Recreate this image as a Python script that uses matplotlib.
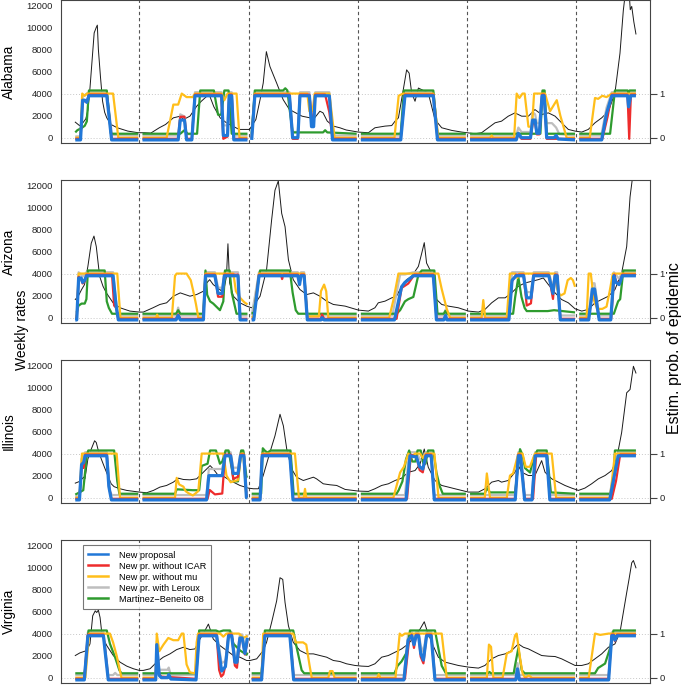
import numpy as np
import matplotlib
matplotlib.use("Agg")
import matplotlib.pyplot as plt
from matplotlib.lines import Line2D

plt.rcParams['font.family'] = ['Liberation Sans', 'DejaVu Sans']

# ---------------- data (week index, value) ----------------
STATES = ["Alabama", "Arizona", "Illinois", "Virginia"]
SEASON_BREAKS = [30.5, 82.5, 134.5, 186.5, 238.5]
RATE_TICKS = [0, 2000, 4000, 6000, 8000, 10000, 12000]
PROB_TICKS = [0, 1]
PROB_SCALE = 4000
SERIES_LABELS = ["New proposal", "New pr. without ICAR", "New pr. without mu",
                 "New pr. with Leroux", "Martinez\u2212Beneito 08"]

# ---- Alabama ----
AL_RATE = [(0,1410),(2,1100),(3,1200),(5,1700),(6,2500),(7,4500),(8,7000),(9,9500),(10,10000),(10.5,10200),(11,8000),(12,5500),(13,3300),(14,2300),(15,1800),(17,1200),(20,900),(25,600),(30,450),
           (33,450),(36,420),(40,900),(43,1200),(46.7,1800),(50,1950),(51.5,1650),(54.6,1950),(57.8,2850),(60,3300),(62.6,3750),(64,3800),(66,2800),(69,1800),(72,1350),(75,1050),(78,750),(82,750),
           (83,750),(86,1650),(88,3450),(89.5,4950),(91,7800),(92.7,6450),(95.9,4950),(99,3450),(102,2550),(105,2250),(108,1950),(111.8,1800),(114,1800),(116.5,2400),(118,2250),(120,1500),(122.9,1050),(126,900),(129,700),
           (134.8,510),(139.6,450),(142.7,900),(147.5,1050),(150.7,1100),(152.3,1500),(153.9,1800),(156.2,4350),(157.8,6150),(159,5850),(160.2,4050),(161.8,3300),(163.4,4500),(165,4350),(166.6,4200),(168.1,4050),(169.7,2850),(171.3,1650),(174.5,900),(179.3,660),(184,510),(190.4,360),(193.5,450),
           (196.7,900),(199.9,1350),(203,1500),(206.2,1950),(209.4,2250),(212.6,1950),(215.8,1950),(218.9,2550),(222.1,2100),(225.3,2250),(228.5,1950),(231.6,1350),(234.8,750),(238,600),(241.2,510),(244.3,750),(247.5,1350),(250.7,1800),(253.9,2400),(257,4050),(259.4,7650),(261,11550),(262.2,13500),(263.5,14000),(264.3,11600),(265,11900),(266,10500),(267,9400)]
AL_BLUE = [(0,0),(2.5,0),(3.5,0.9),(4.5,0.9),(5.5,0.85),(6.5,1),(15,1),(17.3,0),(30,0),
           (32,0),(49,0),(50,0.45),(52,0.45),(53,0),(55.5,0),(57,1),(69.7,1),(70.5,0.1),(72.5,0.1),(73.3,1),(74.5,1),(75.5,0),(82,0),
           (84,0),(85.5,1),(102,1),(103.5,0.05),(106,0.05),(107,1),(111.5,1),(112.5,0.3),(113.5,0.3),(114.3,1),(121,1),(122.5,0),(134,0),
           (136,0),(155,0),(157,1),(170.5,1),(172.5,0),(186,0),
           (188,0),(210,0),(211,0.15),(212.5,0.05),(216.8,0.05),(217.8,0.45),(219,0.45),(219.8,0.15),(221,0.15),(222.3,1),(223.3,1),(224.5,0.05),(228,0.05),(229,0.1),(230,0.02),(238,0),
           (240,0),(250.7,0),(253,0.6),(255.5,1),(263,1),(263.5,0.75),(264.5,1),(267,1)]
AL_RED = [(0,0),(2.5,0),(3.5,0.85),(5.5,0.85),(6.5,1),(15,1),(17.3,0),(30,0),
          (32,0),(49,0),(50,0.5),(52,0.5),(53,0),(55.5,0),(57,1),(69.5,1),(70.5,0),(72.5,0.05),(73.3,1),(74.5,1),(75.5,0),(82,0),
          (84,0),(85.5,1),(102,1),(103.5,0),(106,0),(107,1),(111.5,1),(112.5,0.5),(113.5,0.5),(114.3,1),(119,1),(121,0.6),(122.5,0),(134,0),
          (136,0),(155,0),(157,1),(170.5,1),(172.5,0),(186,0),
          (188,0),(210,0),(211,0.1),(212.5,0),(216.8,0),(217.8,0.35),(219,0.35),(219.8,0.1),(221,0.1),(222.3,1),(223.3,1),(224.5,0),(238,0),
          (240,0),(251,0),(253.5,0.5),(255.5,1),(263,1),(263.8,0),(264.6,1),(267,1)]
AL_GRAY = [(0,0),(2.5,0),(3.5,0.9),(6.5,1),(15,1),(17.5,0.03),(30,0.02),
           (32,0.02),(49,0.02),(50,0.5),(52,0.45),(53,0.05),(55.5,0.05),(57,1),(69.7,1),(70.5,0.25),(72.5,0.25),(73.3,1),(74.5,1),(75.5,0.02),(82,0.02),
           (84,0.02),(85.5,1),(102,1),(103.5,0.1),(106,0.1),(107,1),(111.5,1),(112.5,0.45),(113.5,0.45),(114.3,1),(121,1),(122.5,0.02),(134,0.02),
           (136,0.02),(155,0.02),(157,1),(170.5,1),(172.5,0.02),(186,0.02),
           (188,0.02),(210,0.02),(211,0.2),(212.5,0.1),(216.8,0.1),(217.8,0.55),(219,0.5),(219.8,0.3),(221,0.3),(222.3,1),(223.3,1),(224.5,0.3),(227,0.3),(229,0.2),(230.5,0.05),(238,0.02),
           (240,0.02),(250.5,0.02),(253,0.65),(255.5,1),(263,1),(263.5,0.85),(264.5,1),(267,1)]
AL_YELLOW = [(0,0),(2.5,0),(3.3,1),(4.5,0.95),(5.5,1),(18,1),(20.5,0),(30,0),
             (32,0),(43.5,0),(46.7,0.75),(49,0.75),(50.7,1),(53,0.92),(56,0.92),(57,1),(69.7,1),(71,0.85),(72.5,1),(76.8,1),(78.2,0),(82,0),
             (84,0),(85.5,1),(110.5,1),(111.5,0.6),(113,0.6),(114,1),(121,1),(123.5,0),(134,0),
             (136,0),(152,0),(154,0.95),(156,1),(170.5,1),(172.9,0),(186,0),
             (188,0),(197.5,0),(198.3,0.05),(199,0),(209,0),(210.2,1),(211.5,0.9),(213,1),(214,1),(215.8,0.25),(217.5,0.25),(218.5,1),(223.7,1),(226.1,0.6),(229.3,0.85),(231,0.5),(234,0),(238,0),
             (240,0),(245,0),(247.5,0.9),(249,0.88),(251,0.95),(253,0.92),(255.5,1),(267,1)]
AL_GREEN = [(0,0.05),(1,0.1),(3,0.15),(4.5,0.2),(5.5,0.3),(6.5,1),(15,1),(17,0.02),(30,0.02),
            (32,0.02),(50,0.02),(52,0.1),(53.5,0.02),(58,0.02),(59.5,1),(66,1),(68,0.45),(69.5,0.45),(71,1),(73,1),(74.5,0.02),(82,0.02),
            (84,0.02),(85.5,1),(99,1),(100,1.05),(101,1),(102,0.6),(103.5,0.05),(118,0.05),(119,0.1),(120,0.05),(134,0.02),
            (136,0.02),(155,0.02),(156.5,1),(170.5,1),(172.5,0.02),(186,0.02),
            (188,0.02),(221.5,0.02),(222.5,1),(223.5,1),(224.5,0.02),(238,0.02),
            (240,0.02),(254.7,0.02),(257,1),(263,1),(263.5,0.95),(264,1),(267,1)]

# ---- Arizona ----
AZ_RATE = [(0,1650),(1.4,1950),(3,2550),(4.4,3000),(6,4650),(7.6,6750),(8.9,7400),(10,6450),(11.6,3750),(13.2,2850),(14.8,2250),(18,1350),(21.3,900),(26,600),(30.5,510),(32.4,510),(37,900),(40.3,1200),(43.5,1350),(46.7,1950),(50,2250),(52.3,2100),(54.6,1950),(57.8,2100),(61,2400),(62.6,3150),(64,3450),(65.7,3000),(68.9,2550),(70.5,2250),(72,3750),(72.7,6700),(73.5,3150),(75.3,1950),(78.4,1350),(81.6,1050),(84,900),(84.8,1050),(88,1950),(91.1,4350),(93.5,8850),(95.1,11550),(96.7,12400),(98.3,9450),(99.9,8250),(101.5,5250),(103.8,3450),(107,2550),(110.2,2100),(113.4,2250),(116.5,1950),(119.7,1500),(122.9,1200),(128.5,1050),(134.8,690),(139.6,600),(142.7,900),(144.3,1350),(147.5,1500),(150.7,1800),(153,1950),(155.4,2850),(157.8,3450),(160.2,3750),(163.4,4650),(165,5850),(166.2,6800),(167.3,4950),(168.9,4350),(170.5,3450),(172.1,1650),(174.5,1200),(177.7,1050),(182.4,900),(187.2,600),(192,510),(195.1,750),(198.3,1350),(201.5,1800),(204.7,1800),(207.8,2250),(211,2850),(214.2,3150),(217.4,3300),(220.5,3450),(222.9,3600),(225.3,3000),(228.5,2250),(231.6,1650),(234.8,1350),(238,810),(241.2,600),(244.3,750),(247.5,1350),(250.7,1650),(253.9,1950),(257,2550),(260.2,4050),(262.6,6450),(264.2,10950),(265.3,12600),(266.5,14500),(267,15500)]
AZ_BLUE = [(0,0),(0.7,0),(1.6,0.95),(2.8,0.95),(3.5,0.85),(4.5,0.9),(5.3,1),(18,1),(19.5,0.3),(20.5,0),(30,0),
           (32,0),(48,0),(49,0.1),(50,0),(61,0),(62,1),(66.5,1),(68,0.6),(70,0.6),(71,1),(77.5,1),(78.5,0),(82,0),
           (84,0),(85,0),(87.5,1),(106,1),(106.8,0.8),(107.5,1),(109,1),(110.5,0),(117,0),(117.5,0.05),(118.5,0),(134,0),
           (136,0),(152,0),(155.4,0.75),(157,0.85),(161,1),(170.5,1),(172,0),(175.5,0),(176.3,0.1),(177,0),(186,0),
           (188,0),(206.5,0),(208,0.9),(210,1),(213.5,1),(215,0.5),(217,0.5),(218.3,1),(225.5,1),(227.5,0.6),(228.5,1),(229.5,1),(231,0),(238,0),
           (240,0),(244.5,0),(246.3,0.7),(247.3,0.7),(249.5,0),(255,0),(256.5,1),(257.5,0.85),(259,0.8),(260.5,1),(267,1)]
AZ_RED = [(0,0),(0.7,0),(1.6,0.95),(2.8,0.9),(3.5,0.8),(4.5,0.85),(5.3,1),(17.5,1),(18.5,0.3),(19.5,0.25),(20.5,0),(30,0),
          (32,0),(48,0),(49,0.1),(50,0),(61,0),(62,1),(66.5,1),(68,0.5),(70,0.5),(71,1),(77.5,1),(78.5,0),(82,0),
          (84,0),(85,0),(87.5,1),(98,1),(98.5,0.9),(99,1),(106,1),(106.8,0.8),(107.5,1),(109,1),(110.5,0),(117,0),(117.5,0.1),(118.5,0),(134,0),
          (136,0),(153,0),(155.4,0.7),(158.6,0.8),(161.5,1),(170.5,1),(172,0),(186,0),
          (188,0),(206.5,0),(208,0.85),(210,1),(213.5,1),(215,0.3),(217,0.35),(218.3,1),(225.5,1),(227.5,0.45),(228.5,1),(229.5,1),(231,0),(238,0),
          (240,0),(244.5,0),(246.3,0.6),(247.3,0.6),(249.5,0),(255.2,0),(256.7,1),(257.5,0.85),(259,0.8),(260.5,1),(267,1)]
AZ_GRAY = [(0,0),(0.7,0),(1.6,1),(3.5,0.9),(5.3,1),(18,1),(19.5,0.3),(20.5,0.02),(30,0.02),
           (32,0.02),(48,0.02),(49,0.2),(50,0.02),(61,0.02),(62,1),(66.5,1),(68,0.65),(70,0.65),(71,1),(77.5,1),(78.5,0.02),(82,0.02),
           (84,0.02),(87.5,1),(106,1),(106.8,0.85),(107.5,1),(109,1),(110.5,0.02),(134,0.02),
           (136,0.02),(151,0.02),(152.5,0.4),(154.7,0.95),(157,0.95),(161,1),(170.5,1),(172,0.02),(175.5,0.02),(176.3,0.15),(177,0.02),(186,0.02),
           (188,0.02),(206.5,0.02),(208,1),(213.5,1),(215,0.55),(217,0.55),(218.3,1),(225.5,1),(227.5,0.65),(228.5,1),(229.5,1),(231,0.02),(238,0.02),
           (240,0.02),(244.5,0.02),(246.3,0.75),(247.3,0.75),(249.5,0.02),(255,0.02),(256.5,1),(259,0.85),(260.5,1),(267,1)]
AZ_YELLOW = [(0,0),(0.7,0),(1.6,1),(20,1),(21.5,0),(30,0),
             (32,0),(38.5,0),(39,0.07),(39.5,0),(46,0),(47.5,0.95),(48.3,1),(53,1),(55,0.85),(56.2,0.6),(57.5,0.3),(58.6,0),(61,0),(62,1),(75.3,1),(76.5,0.6),(78.5,0.45),(80.5,0.35),(82,0.3),
             (84,0),(85,0.05),(87.5,1),(109,1),(110.5,0.03),(116,0.03),(117,0.6),(118.5,0.75),(119.5,0.6),(120.5,0),(134,0),
             (136,0),(149.5,0),(151.5,0.4),(153.9,1),(172.9,1),(174.5,0.65),(176.9,0.2),(178.5,0),(186,0),
             (188,0),(193.5,0),(194.3,0.4),(195.2,0),(205.5,0),(207,1),(209.5,1),(210.5,0.9),(211.5,1),(228.5,1),(229.5,0.65),(231,0.5),(233,0.55),(234.5,0.85),(236,0.9),(237,0.85),(238,0.7),
             (240,0),(243.5,0),(244.5,1),(245.5,1),(247,0.4),(248.5,0.2),(251,0.2),(253,0.25),(254.5,0.6),(256,1),(267,1)]
AZ_GREEN = [(0.7,0.05),(1.5,0.2),(3,0.25),(4.5,0.25),(5.3,0.35),(6,1),(14,1),(15,0.3),(16,0.15),(17.5,0.02),(30,0.02),
            (32,0.02),(48,0.02),(49,0.1),(50,0.02),(61,0.02),(62,1),(62.8,0.45),(64.2,0.3),(65.7,0.25),(68.9,0.1),(70.5,0.3),(71.3,1),(73.5,1),(74.5,0.5),(76.8,0.02),(82,0.02),
            (84,0.02),(85,0.05),(88,1),(102.2,1),(103.5,0.5),(105,0.1),(106.2,0.02),(134,0.02),
            (136,0.02),(153,0.02),(154.7,0.1),(157,0.3),(158.6,0.35),(161,0.4),(163.4,0.9),(165,1),(171,1),(172.5,0.02),(175.5,0.02),(176.2,0.08),(177,0.02),(186,0.02),
            (188,0.02),(208.5,0.02),(209.5,0.4),(211,0.85),(212.5,0.4),(214,0.15),(215,0.08),(225,0.08),(228,0.1),(238,0.05),
            (240,0.02),(256.5,0.02),(258.5,0.3),(259.5,0.35),(261,1),(267,1)]

# ---- Illinois ----
IL_RATE = [(0,1320),(2,1470),(4,1860),(4.6,1710),(6,3500),(7.6,4400),(9.2,5160),(10,5000),(10.8,4400),(12.4,3500),(13.9,2760),(15.5,2000),(17.1,1260),(18.5,1000),(21.3,810),(24.5,660),(30.5,510),(34,450),(37.2,660),(40.3,960),(43.5,1110),(46.7,1410),(49.1,1770),(51.5,1650),(54.6,1620),(57.8,1710),(61,2310),(64.2,2910),(65.7,2610),(68.1,2010),(70.5,1950),(73.7,1560),(75.3,1410),(78.4,1110),(82.4,870),(84.8,810),(87.2,810),(89.5,2010),(92.7,4110),(95.1,5610),(97.5,7560),(99.1,6510),(100.7,4410),(103,2610),(105.4,1860),(108.6,1560),(111,1710),(113.4,1860),(114.9,1710),(118.1,1260),(121.3,1170),(124.5,1110),(128.5,750),(134.8,600),(139.6,570),(142.7,810),(145.9,1110),(149.1,1260),(152.3,1560),(155.4,1770),(158.6,2310),(161.8,2460),(164.2,3060),(166.2,4410),(168.1,2760),(169.7,2160),(171.3,1560),(174.5,1110),(177.7,960),(180.8,810),(184,660),(187.2,510),(192,510),(195.1,810),(198.3,1410),(201.5,1560),(203,1410),(206.2,1560),(209.4,2310),(211,2910),(212.6,2310),(215.8,2010),(218.9,2010),(222.1,3360),(223.7,2310),(226.9,1710),(230.1,1410),(233.2,1110),(236.4,870),(239.6,660),(242.7,870),(245.9,1260),(249.1,1710),(252.3,2010),(255.5,2460),(257.8,3510),(260.2,5910),(262.6,9510),(264.2,9810),(265.8,11910),(267,11300)]
IL_BLUE = [(0,0),(2,0),(3,0.8),(4,0.85),(4.7,1),(15,1),(16,0.3),(17.2,0),(30,0),
           (32,0),(62.5,0),(63.6,0.55),(70,0.55),(71.3,1),(74,1),(75.2,0.6),(77.5,0.6),(78.7,1),(80.3,1),(81.5,0.05),(82,0.05),
           (84,0),(88,0),(89,1),(102.2,1),(103.7,0),(134,0),
           (136,0),(157.5,0),(159.4,1),(162.5,0.97),(164,0.75),(165.5,0.7),(167,1),(169.5,1),(171,0),(186,0),
           (188,0),(209.5,0),(211,1),(212,1),(214,0),(217.5,0),(219,1),(224.5,1),(226,0),(238,0),
           (240,0),(254.5,0),(256.5,0.5),(258.6,1),(267,1)]
IL_RED = [(0,0),(2,0),(3,0.7),(4,0.7),(4.7,1),(15,1),(16,0.3),(17.2,0),(30,0),
          (32,0),(63,0),(64,0.2),(66.5,0.1),(70,0.12),(71.3,1),(74,1),(75.2,0.45),(77.5,0.5),(78.7,1),(80.3,1),(81.5,0.05),(82,0.05),
          (84,0),(88,0),(89,1),(102.2,1),(103.7,0),(134,0),
          (136,0),(158,0),(159.8,1),(162.5,0.95),(164,0.65),(165.5,0.6),(167,1),(169.5,1),(171,0),(186,0),
          (188,0),(209.5,0),(211,1),(212,1),(214,0),(218,0),(219.5,1),(224.5,1),(226,0),(238,0),
          (240,0),(255.5,0),(257.5,0.4),(259.5,1),(267,1)]
IL_GRAY = [(0,0),(2,0),(3,0.85),(4.7,1),(15,1),(16.5,0.1),(17.5,0.03),(30,0.03),
           (32,0.03),(62.5,0.03),(63.6,0.62),(70,0.62),(71.3,1),(74,1),(75.2,0.65),(77.5,0.65),(78.7,1),(80.3,1),(81.5,0.1),(82,0.1),
           (84,0.02),(88,0.02),(89,1),(102.2,1),(103.7,0.03),(134,0.03),
           (136,0.03),(157,0.03),(159,1),(162.5,1),(164,0.85),(165.5,0.8),(167,1),(169.5,1),(171,0.03),(186,0.03),
           (188,0.03),(209.5,0.03),(211,1),(212,1),(214,0.03),(217.5,0.03),(219,1),(224.5,1),(226,0.03),(238,0.03),
           (240,0.03),(254.5,0.03),(256.5,0.55),(258.6,1),(267,1)]
IL_YELLOW = [(0,0),(2,0),(3.2,1),(19.7,1),(21.3,0),(30,0),
             (32,0),(47.5,0),(48.3,0.45),(49.5,0.3),(51.5,0.25),(52.5,0.15),(54,0.1),(56,0.05),(58.6,0.15),(60.2,1),(70.5,1),(72,0.5),(74,0.35),(77.5,0.4),(79,1),(80,1),(81.5,0),(82,0),
             (84,0),(88,0),(89,1),(104.6,1),(106.5,0),(108.8,0),(109.4,0.2),(110,0),(134,0),
             (136,0),(151.5,0),(154.7,0.57),(156.5,0.7),(158.6,1),(160,0.92),(161.8,1),(164.2,1),(165.5,0.9),(167,1),(171,1),(173,0),(186,0),
             (188,0),(195,0),(196,0.55),(197.5,0),(205.5,0),(207,0.5),(208.5,0.55),(211,1),(213,1),(214.5,0.7),(216.5,0.7),(218.9,1),(226.9,1),(229,0),(238,0),
             (240,0),(254.7,0),(257,1),(267,1)]
IL_GREEN = [(0,0),(2,0.05),(3.8,0.1),(5.5,0.9),(6.2,1),(18.5,1),(20,0.3),(21,0.02),(30,0.02),
            (32,0.02),(47.5,0.02),(48.3,0.12),(56,0.1),(59,0.1),(60.2,0.65),(63,0.7),(64.2,1),(67,1),(68.9,0.7),(70,0.75),(71.6,1),(73,1),(74.5,0.6),(75.5,0.3),(77.5,0.3),(79,1),(80,1),(81.5,0.4),(82,0.4),
            (84,0.02),(88.5,0.02),(89.3,1.05),(90.2,1),(91.5,0.95),(93,1),(102.5,1),(104,0.02),(134,0.02),
            (136,0.02),(153,0.02),(154,0.1),(155.8,0.3),(157.5,0.8),(159,1),(160.5,0.75),(162,0.75),(163,1),(164.5,1),(165.8,0.7),(166.8,0.7),(168,1),(170.5,1),(172,0.5),(173.5,0.2),(175,0.02),(186,0.02),
            (188,0.02),(195,0.02),(196,0.15),(197.5,0.05),(209.5,0.05),(210.5,0.5),(211.8,1.03),(213,0.9),(214.2,0.6),(216.6,0.5),(218.1,0.8),(220,1),(224.5,1),(226.5,0.05),(238,0.02),
            (240,0.02),(256,0.02),(257,1),(267,1)]

# ---- Virginia ----
VA_RATE = [(0,2010),(2.2,2250),(5.4,2460),(7,3060),(8.3,5610),(9.5,6060),(10.2,5910),(11,6120),(11.8,5460),(12.6,4110),(13.4,3510),(15,2910),(18.1,2010),(21.3,1410),(24.5,1050),(27.7,810),(30.5,660),(32.4,660),(35.6,810),(38.8,1410),(41.9,1860),(45.1,2160),(48.3,2550),(51.5,2760),(54.6,2550),(57,2610),(59.4,3510),(61.3,4110),(63.4,4860),(64.2,4410),(65.7,3510),(68.9,2910),(72.1,2460),(75.3,2010),(78.4,1860),(81.6,1560),(83.2,1560),(86.4,1710),(89.5,2460),(91.1,3210),(93.5,5010),(95.9,6960),(97.5,9060),(98.8,8910),(99.9,6810),(101.5,4710),(103.8,3210),(107,2460),(110.2,2160),(113.4,2160),(116.5,2010),(119.7,1860),(122.9,1560),(126,1470),(129.2,1260),(133.2,1110),(136.4,1050),(139.6,1020),(142.7,1260),(145.9,1860),(149.1,2010),(152.3,2310),(155.4,2610),(158.6,3060),(161.8,3810),(164.2,4410),(166.2,5070),(167.3,4410),(169.7,3210),(172.9,1860),(176.1,1410),(179.3,1260),(182.4,1110),(187.2,960),(192,870),(195.1,1110),(198.3,1710),(201.5,2010),(204.7,2160),(207.8,2460),(211,3060),(213.4,2760),(215.8,2610),(218.9,2310),(222.1,2010),(225.3,1950),(228.5,1920),(231.6,1710),(234.8,1410),(238,1110),(241.2,1110),(244.3,1260),(247.5,1710),(250.7,2160),(253.9,2760),(257,3060),(259.4,4110),(261,5910),(262.6,7710),(263.7,8910),(265,10410),(265.8,10620),(267,9960)]
VA_BLUE = [(0,0),(4.3,0),(6,1),(13.4,1),(15.7,0),(30,0),
           (32,0),(38.3,0),(38.8,0.8),(40,0.1),(41,0.05),(44,0.05),(44.5,0.12),(45.5,0.02),(57.5,0),(59,1),(67.3,1),(69.7,0.2),(71.5,0.3),(73,1),(74.5,1),(76,0.4),(77,0.4),(78.4,0.95),(79.5,0.95),(80.8,0.6),(82,0.95),
           (84,0),(88.7,0),(90.3,1),(102.2,1),(104,0),(134,0),
           (136,0),(156.5,0),(158.5,0.9),(160.2,1),(161.3,0.8),(162.3,1),(163.5,1),(164.5,0.6),(165.8,0.45),(167.3,1),(169.5,1),(171.3,0),(186,0),
           (188,0),(209.8,0),(210.6,0.25),(211.5,0),(238,0),
           (240,0),(254,0),(255.5,1),(256.5,1),(257,0.9),(258,1),(267,1)]
VA_RED = [(0,0),(4.3,0),(6,1),(13.4,1),(15.7,0),(30,0),
          (32,0),(38.3,0),(38.8,0.7),(40,0.1),(41,0.05),(57.5,0),(59,1),(67.3,1),(68.5,0.2),(69.5,0.05),(70.5,0.1),(71.5,0.3),(73,1),(74.5,1),(76,0.3),(77,0.25),(78.4,0.9),(79.5,0.9),(80.8,0.55),(82,0.85),
          (84,0),(88.7,0),(90.3,1),(102.2,1),(104,0),(134,0),
          (136,0),(157,0),(159,0.9),(160.2,1),(161.3,0.7),(162.3,1),(163.5,1),(164.5,0.5),(165.8,0.35),(167.3,1),(169.5,1),(171.3,0),(186,0),
          (188,0),(209.8,0),(210.6,0.2),(211.5,0),(238,0),
          (240,0),(254,0),(255.5,1),(256.5,1),(257,0.85),(258,1),(267,1)]
VA_GRAY = [(0,0.03),(4.3,0.03),(6,1),(13.4,1),(15.7,0.03),(18,0.03),(19,0.08),(20,0.03),(30,0.03),
           (32,0.03),(38.3,0.03),(38.8,0.8),(40,0.15),(44,0.15),(44.5,0.2),(45.5,0.03),(57.5,0.03),(59,1),(67.3,1),(69.7,0.3),(71.5,0.35),(73,1),(74.5,1),(76,0.45),(77,0.45),(78.4,0.95),(79.5,0.95),(80.8,0.65),(82,0.95),
           (84,0.03),(88.7,0.03),(90.3,1),(102.2,1),(104,0.03),(134,0.03),
           (136,0.03),(156.5,0.03),(158.5,0.95),(160.2,1),(161.3,0.85),(162.3,1),(163.5,1),(164.5,0.7),(165.8,0.55),(167.3,1),(169.5,1),(171.3,0.03),(186,0.03),
           (188,0.03),(209.8,0.03),(210.6,0.3),(211.5,0.03),(238,0.03),
           (240,0.03),(254,0.03),(255.5,1),(267,1)]
VA_YELLOW = [(0,0),(4.8,0),(6.6,1),(16.5,1),(18,0.8),(19.7,0.5),(22,0),(30,0),
             (32,0),(38.3,0),(38.8,1),(40,0.6),(42,0.75),(44.3,0.9),(46.7,0.85),(49,0.85),(50.7,1),(51.5,1),(53,0.3),(54.6,0.12),(57,0.1),(57.8,0.8),(58.5,1),(69,1),(70.5,0.93),(72,1),(78,1),(80,0.9),(82,0.95),
             (84,0),(88.7,0),(89.5,1),(103.8,1),(105,0.8),(108.5,0.8),(110,0.75),(111.5,0.3),(112.6,0),(120.5,0),(121.3,0.15),(122.5,0.15),(123.5,0),(134,0),
             (136,0),(143.8,0),(144.5,0.08),(145.3,0),(152.5,0),(154.5,1),(155.5,0.95),(157,1),(174.5,1),(176.9,0),(186,0),
             (188,0),(196,0),(197,0.75),(198,0.7),(199.1,0),(203.5,0),(205.5,0.55),(207.8,0.6),(209.4,0.95),(210.2,1),(211.8,0.45),(213,0.1),(214.2,0),(216,0.05),(217.5,0),(238,0),
             (240,0),(244.5,0),(246,0.5),(247.5,1),(250,0.97),(254,1),(267,1)]
VA_GREEN = [(0,0.03),(4.5,0.03),(5.5,0.5),(6.3,1),(15,1),(16.5,0.7),(18.9,0.4),(21,0.1),(22,0.03),(30,0.03),
            (32,0.03),(57.5,0.03),(59,1),(67,1),(68.5,0.97),(70.5,1),(73.7,1),(75.3,0.7),(78.4,0.55),(81.6,0.45),(82,0.5),
            (84,0.03),(88.7,0.03),(90.3,1),(103.8,1),(105.5,0.6),(107.8,0.1),(109,0.03),(134,0.03),
            (136,0.03),(152,0.03),(153.5,0.2),(155.4,0.3),(157.8,0.5),(159.4,1),(171.3,1),(172.9,0.6),(174.5,0.2),(176.5,0.03),(186,0.03),
            (188,0.03),(196.5,0.03),(197.2,0.06),(198,0.03),(208.8,0.03),(209.4,0.2),(211,0.6),(212.6,0.1),(214,0.03),(238,0.03),
            (240,0.03),(247.5,0.03),(249,0.15),(252.3,0.25),(254.7,0.6),(256.3,1),(267,1)]

RATES = [AL_RATE, AZ_RATE, IL_RATE, VA_RATE]
PROBS = [
    dict(blue=AL_BLUE, red=AL_RED, yellow=AL_YELLOW, gray=AL_GRAY, green=AL_GREEN),
    dict(blue=AZ_BLUE, red=AZ_RED, yellow=AZ_YELLOW, gray=AZ_GRAY, green=AZ_GREEN),
    dict(blue=IL_BLUE, red=IL_RED, yellow=IL_YELLOW, gray=IL_GRAY, green=IL_GREEN),
    dict(blue=VA_BLUE, red=VA_RED, yellow=VA_YELLOW, gray=VA_GRAY, green=VA_GREEN),
]

# ---------------- styles ----------------
COLORS = dict(blue="#2178D8", red="#EE2C2C", yellow="#FFBE1A", gray="#BEBEBE", green="#2E9B2E")
LW = dict(blue=2.3, red=1.6, yellow=1.6, gray=1.6, green=1.6)
OFFS = dict(blue=-0.05, red=-0.025, yellow=0.0, gray=0.03, green=0.07)
DRAW_ORDER = ["gray", "green", "yellow", "red", "blue"]
LEGEND_ORDER = ["blue", "red", "yellow", "gray", "green"]

W, H = 685, 686
fig = plt.figure(figsize=(W / 100, H / 100), dpi=100)
panel_tops = [0, 180, 360, 540]
ph = 143
x0, x1 = 61, 650

def prob_line(ax, pts, key):
    w = np.array([p[0] for p in pts], float)
    v = np.array([p[1] for p in pts], float)
    sid = np.digitize(w, SEASON_BREAKS)
    for s in np.unique(sid):
        m = sid == s
        ax.plot(w[m], PROB_SCALE * (v[m] + OFFS[key]), color=COLORS[key], lw=LW[key],
                solid_capstyle='butt', solid_joinstyle='round', zorder=3 + DRAW_ORDER.index(key))

for i, state in enumerate(STATES):
    top = panel_tops[i]
    ax = fig.add_axes([x0 / W, 1 - (top + ph) / H, (x1 - x0) / W, ph / H])
    ax.set_xlim(-6.8, 273.7)
    ax.set_ylim(-480, 12480)
    for sp in ax.spines.values():
        sp.set_color("#444444"); sp.set_linewidth(0.8)
    ax.set_xticks([])
    ax.set_yticks(RATE_TICKS)
    ax.set_yticklabels([str(t) for t in RATE_TICKS], fontsize=6.8, color="#222222")
    ax.tick_params(axis='y', length=0, pad=6)
    for t in PROB_TICKS:
        ax.axhline(PROB_SCALE * t, color="#C8C8C8", lw=0.7, ls=(0, (1, 2)), zorder=1)
    for b in SEASON_BREAKS:
        ax.axvline(b, color="#555555", lw=0.8, ls=(0, (3, 2.5)), zorder=1.5)
    rw = np.array([p[0] for p in RATES[i]], float)
    rv = np.array([p[1] for p in RATES[i]], float)
    ax.plot(rw, rv, color="#1a1a1a", lw=0.7, zorder=2)
    for key in DRAW_ORDER:
        prob_line(ax, PROBS[i][key], key)
    fig.text(8.5 / W, 1 - (top + ph / 2) / H, state, rotation=90, ha='center', va='center', fontsize=9.8)
    ax2 = ax.twinx()
    ax2.set_ylim(ax.get_ylim())
    ax2.set_yticks([PROB_SCALE * t for t in PROB_TICKS])
    ax2.set_yticklabels([str(t) for t in PROB_TICKS], fontsize=6.8, color="#222222")
    ax2.tick_params(axis='y', length=5, width=0.8, color="#444444", pad=2)
    for sp in ax2.spines.values():
        sp.set_visible(False)
    if i == 3:
        handles = [Line2D([0], [0], color=COLORS[k], lw=1.8) for k in LEGEND_ORDER]
        leg = ax.legend(handles, SERIES_LABELS, loc='upper left', bbox_to_anchor=(0.037, 0.965),
                        borderaxespad=0, fontsize=6.6, frameon=True, fancybox=False,
                        handlelength=2.1, handletextpad=1.2, labelspacing=0.22,
                        borderpad=0.6)
        leg.get_frame().set_edgecolor("#555555")
        leg.get_frame().set_linewidth(0.8)
        leg.set_zorder(20)

fig.text(22 / W, 1 - 330 / H, "Weekly rates", rotation=90, ha='center', va='center', fontsize=10)
fig.text(675 / W, 1 - 348 / H, "Estim. prob. of epidemic", rotation=90, ha='center', va='center', fontsize=11.5)

fig.savefig("out.png", dpi=100)
